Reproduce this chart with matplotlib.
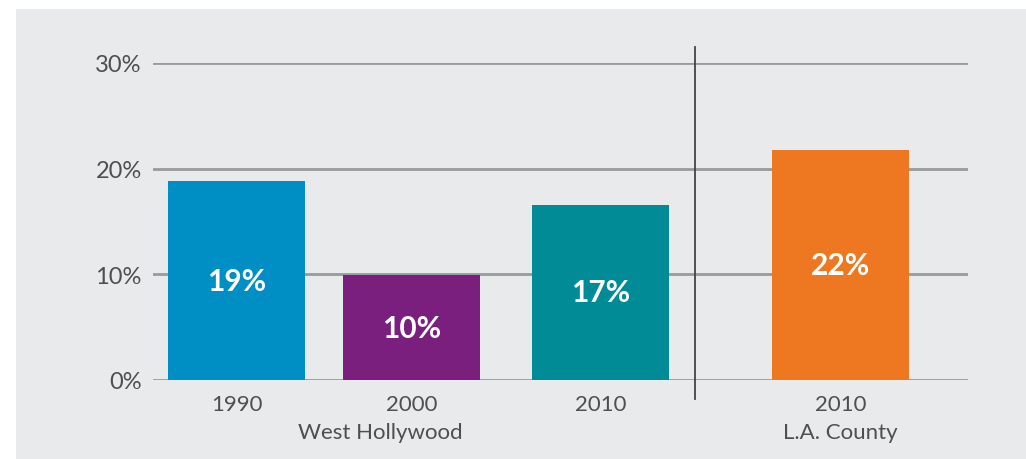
import matplotlib
matplotlib.use("Agg")
import matplotlib.pyplot as plt
from matplotlib.patches import Rectangle

# ---- data ----
years = ["1990", "2000", "2010", "2010"]
groups = ["West Hollywood", "L.A. County"]
values = [18.8, 9.9, 16.6, 21.8]
bar_labels = ["19%", "10%", "17%", "22%"]
yticks = [0, 10, 20, 30]
ytick_labels = ["0%", "10%", "20%", "30%"]
colors = ["#008fc5", "#7a1f7e", "#008b96", "#ee7821"]

# ---- layout ----
W, H = 1026, 460
xpos = [236.5, 411.5, 600.5, 840.5]
bar_w = 137
x_left, x_right = 153, 968
y_zero, y_top = 381, 64
divider_x = 695
group_x = [380, 840.5]

plt.rcParams['font.family'] = ['Lato', 'DejaVu Sans']
fig = plt.figure(figsize=(W / 100, H / 100), dpi=100)
fig.patch.set_facecolor("white")
fig.add_artist(Rectangle((16 / W, 0), 1 - 16 / W, 1 - 10 / H,
                         transform=fig.transFigure, facecolor="#e9eaec",
                         edgecolor="none", zorder=0))

ax = fig.add_axes([x_left / W, 1 - y_zero / H, (x_right - x_left) / W,
                   (y_zero - y_top) / H])
ax.set_facecolor("none")
ax.set_xlim(x_left, x_right)
ax.set_ylim(0, 30)

for t in yticks:
    ax.axhline(t, color="#9a9a9c", lw=2, zorder=1)

ax.bar(xpos, values, width=bar_w, color=colors, zorder=2)

for x, v, lab in zip(xpos, values, bar_labels):
    ax.text(x, v / 2, lab, ha="center", va="center", color="white",
            fontsize=21.5, fontweight="bold", zorder=3)

txt_color = "#4f4f4f"
for s in ax.spines.values():
    s.set_visible(False)
ax.set_yticks(yticks)
ax.set_yticklabels(ytick_labels, fontsize=17, color=txt_color)
ax.tick_params(axis="y", length=0, pad=8)
ax.set_xticks([])

def ydata(py):
    return (y_zero - py) / (y_zero - y_top) * 30

# divider line
ax.plot([divider_x, divider_x], [ydata(48), ydata(400)],
        color="#444444", lw=1.3, clip_on=False, zorder=3)

# x labels
for x, yr in zip(xpos, years):
    ax.text(x, ydata(405), yr, ha="center", va="center", fontsize=16,
            color=txt_color, clip_on=False)
for x, g in zip(group_x, groups):
    ax.text(x, ydata(433), g, ha="center", va="center", fontsize=16,
            color=txt_color, clip_on=False)

fig.savefig("out.png", dpi=100, facecolor=fig.get_facecolor())
